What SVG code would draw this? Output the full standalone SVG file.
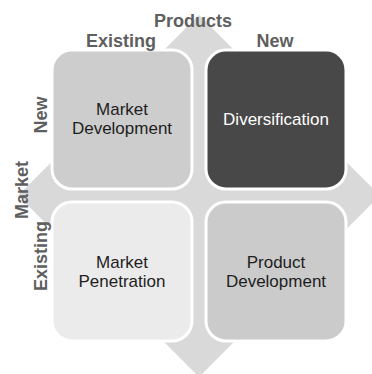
<svg xmlns="http://www.w3.org/2000/svg" width="372" height="374" viewBox="0 0 372 374">
<style>
.box{stroke:#ffffff;stroke-width:3}
.t{font-family:"Liberation Sans",Arial,sans-serif;font-size:17px;text-anchor:middle;fill:#1e1e1e}
.lbl{font-family:"Liberation Sans",Arial,sans-serif;font-size:18px;font-weight:bold;text-anchor:middle;fill:#5f5f5f}
</style>
<rect width="372" height="374" fill="#ffffff"/>
<g id="star">
<polygon points="199,15 380,195.5 199,377 18,195.5" fill="#d9d9d9"/>
</g>
<g id="connectors"></g>
<g id="market-development">
<rect class="box" x="52" y="50" width="140" height="139" rx="20" fill="#cdcdcd"/>
<text class="t" x="122" y="115">Market</text>
<text class="t" x="122" y="134">Development</text>
</g>
<g id="diversification">
<rect class="box" x="206" y="50" width="140" height="139" rx="20" fill="#484848"/>
<text class="t" x="276" y="125" fill="#ffffff" style="fill:#ffffff">Diversification</text>
</g>
<g id="market-penetration">
<rect class="box" x="52" y="202" width="140" height="139" rx="20" fill="#ebebeb"/>
<text class="t" x="122" y="268">Market</text>
<text class="t" x="122" y="287">Penetration</text>
</g>
<g id="product-development">
<rect class="box" x="206" y="202" width="140" height="139" rx="20" fill="#cbcbcb"/>
<text class="t" x="276" y="268">Product</text>
<text class="t" x="276" y="287">Development</text>
</g>
<g id="labels">
<text class="lbl" x="193" y="27">Products</text>
<text class="lbl" x="121" y="47">Existing</text>
<text class="lbl" x="275" y="47">New</text>
<text class="lbl" transform="translate(28,190) rotate(-90)">Market</text>
<text class="lbl" transform="translate(47,115) rotate(-90)">New</text>
<text class="lbl" transform="translate(47,256) rotate(-90)">Existing</text>
</g>
</svg>
